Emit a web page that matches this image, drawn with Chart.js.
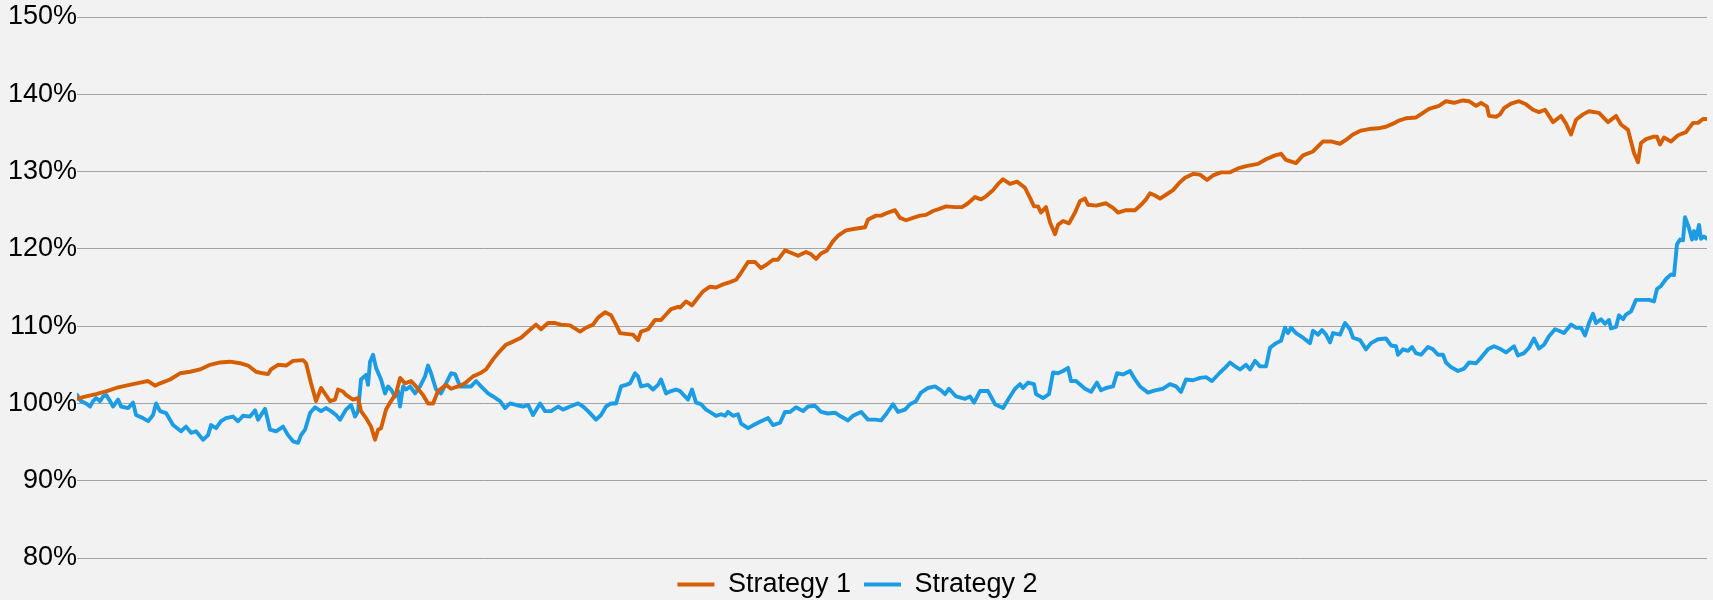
<!DOCTYPE html>
<html>
<head>
<meta charset="utf-8">
<script src="https://cdn.jsdelivr.net/npm/chart.js@4.4.1/dist/chart.umd.min.js"></script>
<style>
  html, body { margin: 0; padding: 0; background: #f2f2f2; }
  #wrap { width: 1713px; height: 600px; position: relative; }
</style>
</head>
<body>
<div id="wrap"><canvas id="c"></canvas></div>
<script>
const seriesNames = ['Strategy 1', 'Strategy 2'];
const yTicks = [80, 90, 100, 110, 120, 130, 140, 150];

const s1Days = [0,9,19,29,39,49,56,63,71,78,83,93,103,113,123,133,143,153,163,171,179,186,191,194,201,209,216,226,229,234,239,244,253,258,261,266,269,276,281,284,289,294,298,301,304,309,314,319,323,328,334,339,346,351,356,361,369,374,381,388,396,403,409,416,421,429,436,444,451,459,464,471,478,484,493,503,509,516,521,528,534,539,543,549,556,561,564,571,578,584,589,594,601,603,609,615,621,626,633,639,646,653,659,664,671,678,684,691,696,701,708,714,721,729,734,739,744,750,756,761,769,778,788,791,799,804,811,818,823,829,836,843,849,856,863,869,878,885,891,898,904,909,916,921,926,933,940,948,953,957,961,964,969,973,978,981,986,992,998,1003,1008,1011,1019,1029,1036,1041,1049,1058,1064,1069,1073,1078,1083,1089,1096,1102,1108,1116,1123,1130,1136,1144,1153,1161,1169,1181,1189,1198,1204,1209,1219,1226,1236,1246,1254,1263,1269,1276,1284,1292,1301,1309,1316,1322,1329,1339,1346,1352,1362,1369,1377,1386,1392,1399,1404,1410,1412,1419,1423,1427,1434,1442,1449,1456,1462,1468,1472,1476,1484,1489,1494,1499,1506,1512,1522,1531,1539,1544,1551,1554,1557,1561,1564,1569,1576,1580,1583,1587,1594,1601,1609,1616,1621,1626,1630];
const s1Values = [100.6,100.9,101.2,101.55,102.0,102.3,102.5,102.7,102.9,102.3,102.6,103.1,103.9,104.1,104.4,105.0,105.3,105.4,105.2,104.9,104.1,103.9,103.8,104.4,105.0,104.9,105.5,105.6,105.2,102.6,100.3,102.0,100.3,100.5,101.8,101.55,101.1,100.5,100.7,99.0,98.1,97.0,95.3,96.6,96.8,99.2,100.3,101.3,103.3,102.6,102.9,102.2,101.1,100.0,100.0,101.6,102.4,101.9,102.2,102.6,103.5,103.9,104.4,105.7,106.5,107.6,108.0,108.5,109.3,110.2,109.6,110.4,110.4,110.2,110.1,109.3,109.8,110.2,111.1,111.8,111.4,110.2,109.1,109.0,108.9,108.2,109.3,109.6,110.8,110.8,111.5,112.2,112.5,112.4,113.2,112.7,113.7,114.5,115.1,115.0,115.4,115.7,116.0,116.9,118.3,118.3,117.5,118.1,118.6,118.6,119.8,119.5,119.1,119.6,119.3,118.7,119.4,119.8,121.0,121.7,122.4,122.6,122.8,123.8,124.3,124.3,124.7,125.0,124.0,123.7,124.0,124.3,124.4,124.9,125.2,125.5,125.4,125.4,125.9,126.7,126.4,126.8,127.6,128.4,129.0,128.4,128.7,127.9,126.6,125.5,125.5,124.7,125.4,123.4,121.9,123.1,123.6,123.3,124.7,126.2,126.5,125.7,125.6,125.9,125.3,124.7,125.0,125.0,125.7,126.4,127.2,126.9,126.5,127.0,127.6,128.5,129.2,129.7,129.6,128.9,129.5,129.9,129.9,130.4,130.7,131.0,131.6,132.1,132.3,131.5,131.1,132.1,132.6,133.9,133.9,133.6,134.1,134.8,135.3,135.5,135.6,135.8,136.2,136.6,136.9,137.0,137.6,138.1,138.5,139.1,138.9,139.2,139.1,138.5,138.9,138.4,137.2,137.1,137.4,138.2,138.8,139.1,138.7,138.0,137.7,138.0,137.2,136.4,137.2,136.2,134.8,136.7,137.4,137.8,137.6,136.4,137.2,136.1,135.4,133.9,132.4,131.2,133.7,134.2,134.5,134.5,133.5,134.4,133.9,134.7,135.1,136.3,136.3,136.8,136.8];

const s2Days = [0,4,9,13,16,19,23,26,29,33,36,41,44,51,56,59,66,71,76,79,83,89,96,104,109,114,119,126,131,134,139,144,149,156,161,166,173,178,181,188,193,199,206,211,216,221,224,228,233,238,244,249,254,259,263,269,274,278,281,284,289,291,293,296,299,304,308,311,314,318,321,323,326,329,333,338,343,348,351,354,359,364,369,374,378,383,389,394,399,404,411,416,423,428,433,439,446,451,456,463,468,474,481,486,493,501,506,511,519,524,529,534,539,544,549,553,558,561,564,571,576,581,584,589,594,599,603,608,611,615,619,624,629,634,639,644,648,651,656,661,664,671,678,684,691,696,703,708,713,719,726,731,738,744,751,758,764,771,776,784,791,798,804,809,816,821,828,833,839,844,851,858,864,868,872,879,888,893,897,903,911,918,926,933,938,943,946,951,957,959,966,972,976,981,986,991,994,999,1008,1014,1020,1024,1029,1036,1040,1046,1053,1058,1063,1071,1078,1086,1093,1099,1104,1109,1116,1123,1129,1135,1143,1148,1153,1158,1163,1169,1173,1178,1183,1189,1193,1199,1204,1208,1211,1214,1219,1226,1233,1236,1241,1245,1249,1253,1256,1263,1268,1273,1276,1283,1289,1294,1301,1309,1314,1319,1321,1326,1331,1335,1339,1344,1351,1356,1361,1366,1369,1374,1381,1387,1392,1399,1404,1411,1417,1424,1429,1437,1441,1447,1452,1457,1462,1467,1472,1478,1482,1487,1494,1499,1504,1508,1512,1516,1519,1524,1528,1532,1534,1539,1542,1546,1549,1554,1559,1566,1572,1577,1580,1584,1589,1594,1597,1600,1603,1606,1608,1612,1615,1617,1619,1622,1624,1627,1630];
const s2Values = [101.1,100.3,100.0,99.6,100.3,100.7,100.3,100.9,101.1,100.3,99.6,100.5,99.6,99.4,100.1,98.5,98.1,97.7,98.5,100.0,99.0,98.75,97.2,96.4,97.0,96.2,96.4,95.3,95.9,97.2,96.8,97.7,98.1,98.3,97.7,98.4,98.3,99.1,97.9,99.3,96.6,96.4,97.0,95.9,95.1,94.9,95.9,96.6,98.75,99.5,99.0,99.4,99.0,98.5,97.9,99.2,99.8,98.3,99.0,103.1,103.7,102.4,105.4,106.3,104.6,103.1,101.3,102.2,101.8,100.9,101.6,99.6,102.2,101.8,102.2,101.3,102.2,103.5,104.9,103.9,101.8,101.3,102.6,103.9,103.8,102.2,102.2,102.2,102.9,102.2,101.3,100.9,100.3,99.4,100.0,99.8,99.6,99.8,98.5,100.0,99.0,99.0,99.6,99.2,99.6,100.0,99.6,99.0,97.9,98.5,99.6,100.0,100.0,102.2,102.4,102.6,103.9,103.5,102.2,102.4,101.8,102.4,103.1,101.3,101.6,101.8,101.6,100.9,100.5,101.8,100.1,99.9,99.2,98.8,98.4,98.6,98.4,98.9,98.4,98.6,97.4,96.8,97.3,97.7,98.1,97.2,97.5,98.9,98.9,99.5,99.0,99.6,99.7,98.9,98.7,98.8,98.3,97.8,98.4,98.9,97.9,97.9,97.8,98.6,99.9,98.9,99.2,99.9,100.3,101.4,102.0,102.2,101.7,101.2,101.9,100.9,100.6,100.9,100.1,101.6,101.6,99.9,99.4,100.9,101.9,102.5,102.0,102.7,102.5,101.2,100.7,101.2,104.0,103.9,104.2,104.6,102.9,102.9,101.9,101.5,102.7,101.7,102.0,102.2,103.9,103.75,104.2,103.1,102.2,101.4,101.7,101.9,102.5,102.2,101.5,103.1,103.0,103.3,103.4,102.9,104.0,104.6,105.3,104.8,104.4,105.0,104.4,105.5,104.8,104.8,107.2,107.8,108.1,109.8,109.1,109.8,109.1,108.5,107.8,109.4,108.9,109.5,108.9,107.9,109.1,108.9,110.4,109.6,108.5,108.2,107.0,107.8,108.3,108.4,107.5,107.4,106.3,107.0,106.8,107.3,106.5,106.3,107.3,107.0,106.3,106.3,105.3,104.7,104.2,104.5,105.3,105.2,105.9,107.0,107.4,107.0,106.6,107.4,106.2,106.5,107.2,108.4,107.1,107.6,108.7,109.6,109.4,109.1,110.2,109.8,109.8,108.8,110.4,111.6,110.4,110.9,110.3,110.8,109.7,109.9,111.4,110.9,111.5,111.9,113.4,113.4,113.4,113.2,114.8,115.2,116.1,116.7,116.6,120.6,121.2,121.1,124.1,122.7,121.2,122.3,121.3,123.1,121.3,121.6,121.3];

const colors = ['#D55E00', '#1C9CE2'];

function pairs(days, vals) {
  return days.map((d, i) => ({ x: d, y: vals[i] }));
}

const FONT = "'Liberation Sans', Arial, Helvetica, sans-serif";

new Chart(document.getElementById('c'), {
  type: 'line',
  data: {
    datasets: [
      { label: seriesNames[0], data: pairs(s1Days, s1Values), borderColor: colors[0], backgroundColor: colors[0], borderWidth: 3.9, pointRadius: 0, tension: 0, borderJoinStyle: 'round', borderCapStyle: 'round' },
      { label: seriesNames[1], data: pairs(s2Days, s2Values), borderColor: colors[1], backgroundColor: colors[1], borderWidth: 3.9, pointRadius: 0, tension: 0, borderJoinStyle: 'round', borderCapStyle: 'round' }
    ]
  },
  options: {
    responsive: true,
    maintainAspectRatio: false,
    animation: false,
    layout: { padding: { left: 8, right: 6, top: 17, bottom: -8 } },
    scales: {
      x: {
        type: 'linear',
        min: 0,
        max: 1630,
        display: false
      },
      y: {
        min: 80,
        max: 150,
        afterBuildTicks: (scale) => { scale.ticks = yTicks.map(v => ({ value: v })); },
        border: { display: false },
        grid: { color: '#a3a3a3', lineWidth: 1, drawTicks: false },
        ticks: {
          padding: 0,
          color: '#000',
          font: { family: FONT, size: 27 },
          callback: (v) => v + '%'
        }
      }
    },
    plugins: {
      tooltip: { enabled: false },
      legend: {
        position: 'bottom',
        labels: {
          color: '#000',
          font: { family: FONT, size: 27 },
          boxWidth: 37,
          boxHeight: 4,
          padding: 13,
          generateLabels: (chart) => chart.data.datasets.map((ds, i) => ({
            text: ds.label,
            fillStyle: ds.borderColor,
            strokeStyle: ds.borderColor,
            lineWidth: 0,
            hidden: !chart.isDatasetVisible(i),
            datasetIndex: i,
            fontColor: '#000'
          }))
        }
      }
    }
  }
});
</script>
</body>
</html>
